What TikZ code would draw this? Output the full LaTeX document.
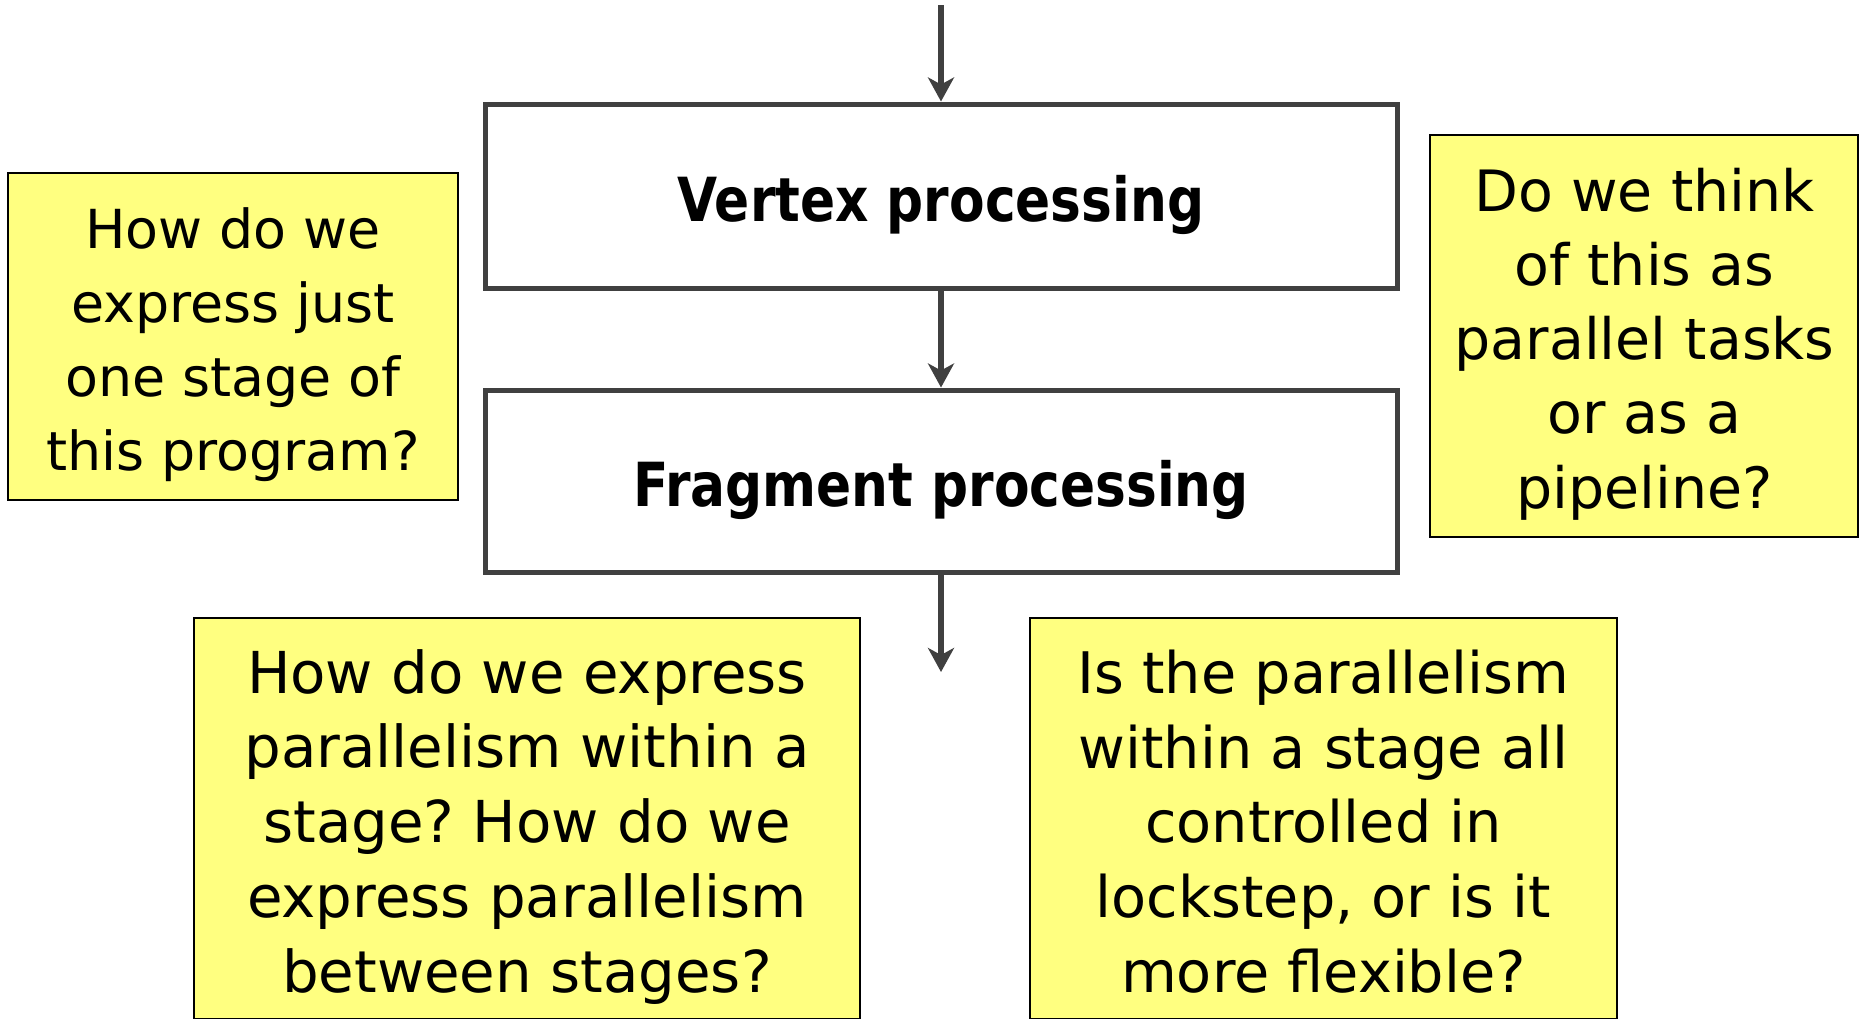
\documentclass[tikz,border=0pt]{standalone}
\usepackage{fontspec}
\setmainfont{DejaVu Sans}
\newfontfamily\stagefont{DejaVu Sans}[FakeStretch=0.852]
\usetikzlibrary{arrows.meta}
\definecolor{flowgrey}{RGB}{64,64,64}
\definecolor{notefill}{RGB}{255,255,128}
\frenchspacing
\begin{document}
\begin{tikzpicture}[x=1pt, y=-1pt,
  stagebox/.style={draw=flowgrey, line width=5pt, fill=white, inner sep=0pt,
    minimum width=912pt,
    font=\stagefont\bfseries\fontsize{60.8pt}{70pt}\selectfont,
    text height=60pt, text depth=8.6pt},
  notebox/.style={draw=black, line width=2.2pt, fill=notefill, inner sep=0pt},
  notetext/.style={anchor=north, align=center, inner sep=0pt},
  flow/.style={draw=flowgrey, line width=5.5pt,
    -{Stealth[length=24pt,width=26pt,inset=7pt]}}]

\clip (0,0) rectangle (1860,1018);
\fill[white] (0,0) rectangle (1860,1018);

% pipeline stages
\coordinate (src) at (941,5);
\node[stagebox, minimum height=184pt] (vertex) at (941,196) {Vertex processing};
\node[stagebox, minimum height=182pt] (fragment) at (941,481) {Fragment processing};
\coordinate (sink) at (941,672);

\draw[flow] (src) -- (vertex.north);
\draw[flow] (vertex.south) -- (fragment.north);
\draw[flow] (fragment.south) -- (sink);

% question notes
\node[notebox, minimum width=450pt, minimum height=326.7pt] (qstage) at (233.3,336.7) {};
\node[notetext, font=\fontsize{53.8pt}{74pt}\selectfont] (qstagetext) at (233,207.1)
  {How do we\\express just\\one stage of\\this program?};

\node[notebox, minimum width=428pt, minimum height=401.7pt] (qtasks) at (1644,335.9) {};
\node[notetext, font=\fontsize{57pt}{74.25pt}\selectfont] (qtaskstext) at (1644.5,167.7)
  {Do we think\\of this as\\parallel tasks\\or as a\\pipeline?};

% the two lower notes run down to the bottom edge
\node[notebox, minimum width=666pt, minimum height=401.5pt] (qwithin) at (527,818.75) {};
\node[notetext, font=\fontsize{57.8pt}{74.75pt}\selectfont] (qwithintext) at (527,649.1)
  {How do we express\\parallelism within a\\stage? How do we\\express parallelism\\between stages?};

\node[notebox, minimum width=587pt, minimum height=401.5pt] (qlock) at (1323.5,818.75) {};
\node[notetext, font=\fontsize{57.3pt}{74.75pt}\selectfont] (qlocktext) at (1323.5,649.5)
  {Is the parallelism\\within a stage all\\controlled in\\lockstep, or is it\\more flexible?};
\end{tikzpicture}
\end{document}
